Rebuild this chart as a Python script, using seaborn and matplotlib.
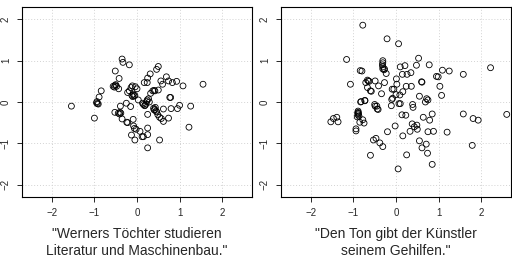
import matplotlib
matplotlib.use("Agg")
import matplotlib.pyplot as plt
import seaborn as sns
import pandas as pd

# left panel points
left_x = [-1.54, -1.00, -0.95, -0.93, -0.91, -0.94, -0.89, -0.84, -0.51, -0.56,
          -0.50, -0.52, -0.48, -0.53, -0.42, -0.43, -0.35, -0.33, -0.18, -0.52,
          -0.44, -0.40, -0.41, -0.38, -0.39, -0.35, -0.25, -0.24, -0.22, -0.22,
          -0.18, -0.14, -0.11, -0.15, -0.12, -0.10, -0.07, -0.05, -0.09, -0.04,
          0.00, 0.03, -0.09, -0.08, -0.06, -0.02, -0.13, -0.05, 0.07, 0.12,
          0.15, 0.25, 0.25, 0.25, 0.25, 0.13, 0.15, 0.18, 0.21, 0.23,
          0.24, 0.27, 0.19, 0.17, 0.24, 0.25, 0.31, 0.37, 0.40, 0.42,
          0.32, 0.29, 0.46, 0.50, 0.50, 0.39, 0.42, 0.40, 0.45, 0.46,
          0.43, 0.49, 0.53, 0.56, 0.60, 0.53, 0.62, 0.62, 0.57, 0.69,
          0.74, 0.74, 0.77, 0.79, 0.80, 0.83, 0.93, 0.95, 1.00, 1.08,
          1.22, 1.26, 1.55]
left_y = [-0.10, -0.39, -0.02, -0.04, -0.05, 0.01, 0.12, 0.27, 0.75, 0.38,
          0.42, 0.40, 0.38, 0.36, 0.57, 0.32, 1.04, 0.96, 0.90, -0.25,
          -0.27, -0.25, -0.29, -0.27, -0.10, -0.41, -0.03, -0.49, -0.50, 0.23,
          0.27, 0.35, 0.39, -0.11, 0.16, 0.13, 0.15, 0.16, 0.19, 0.37,
          0.32, 0.05, -0.42, -0.58, -0.64, -0.66, -0.80, -0.92, -0.71, -0.84,
          -0.84, -0.79, -0.63, -1.11, -0.30, -0.03, -0.06, -0.09, -0.05, 0.01,
          0.05, 0.08, -0.08, 0.47, 0.47, 0.58, 0.68, 0.27, 0.28, 0.27,
          0.21, 0.00, 0.79, 0.86, 0.29, -0.15, -0.18, -0.19, -0.22, -0.24,
          -0.13, -0.31, -0.37, 0.51, 0.43, -0.92, -0.17, -0.47, -0.40, 0.61,
          0.51, -0.39, 0.11, 0.11, -0.16, 0.47, 0.50, -0.16, -0.08, 0.39,
          -0.61, -0.10, 0.43]

# right panel points
right_x = [-1.53, -1.47, -1.39, -1.36, -1.16, -1.07, -0.94, -0.94, -0.89, -0.89,
           -0.88, -0.89, -0.87, -0.90, -0.91, -0.85, -0.78, -0.75, -0.84, -0.80,
           -0.78, -0.82, -0.73, -0.71, -0.65, -0.63, -0.67, -0.67, -0.60, -0.58,
           -0.60, -0.53, -0.50, -0.49, -0.47, -0.44, -0.42, -0.49, -0.41, -0.38,
           -0.34, -0.31, -0.31, -0.32, -0.31, -0.31, -0.28, -0.31, -0.27, -0.27,
           -0.23, -0.21, -0.20, -0.11, -0.10, -0.09, -0.05, -0.02, 0.01, 0.02,
           0.00, 0.06, 0.05, 0.09, 0.10, 0.10, 0.15, 0.16, 0.14, 0.16,
           0.21, 0.23, 0.24, 0.25, 0.26, 0.35, 0.36, 0.33, 0.39, 0.40,
           0.38, 0.43, 0.48, 0.53, 0.49, 0.50, 0.55, 0.55, 0.60, 0.61,
           0.61, 0.64, 0.69, 0.72, 0.75, 0.71, 0.74, 0.75, 0.79, 0.78,
           0.85, 0.85, 0.88, 0.95, 0.99, 1.03, 1.07, 1.09, 1.20, 1.25,
           1.58, 1.58, 1.81, 1.79, 1.93, 2.22, 2.60, -0.08, -0.83, -0.73,
           -0.45, 0.07]
right_y = [-0.48, -0.40, -0.37, -0.48, 1.03, 0.43, -0.65, -0.70, -0.22, -0.25,
           -0.28, -0.31, -0.34, -0.27, -0.36, -0.49, -0.43, -0.51, 0.76, 0.75,
           1.86, 0.01, 0.04, 0.47, 0.51, 0.50, 0.53, 0.35, 0.27, 0.26,
           -1.29, -0.92, -0.06, -0.10, -0.88, -0.17, -0.18, 0.51, 0.39, -0.99,
           0.20, 1.00, 0.95, 0.90, 0.85, 0.80, 0.78, -1.08, 0.80, 0.47,
           0.69, 1.53, -0.72, -0.09, 0.06, 0.31, 0.31, -0.58, 0.56, 0.43,
           0.18, 1.41, -1.62, 0.17, -0.04, 0.85, 0.67, 0.25, -0.31, -0.82,
           0.88, -0.32, 0.38, -1.28, 0.67, 0.71, 0.38, -0.71, -0.06, -0.13,
           -0.53, -0.60, 0.89, 1.06, -0.56, -0.66, 0.14, -0.94, 0.49, 0.48,
           -1.11, -0.37, 0.00, 0.08, 0.05, -1.02, -1.24, -0.72, -0.44, 0.90,
           -0.29, -1.51, -0.71, 0.62, 0.61, 0.38, 0.16, 0.77, -0.73, 0.75,
           0.67, -0.29, -0.40, -1.05, -0.44, 0.83, -0.30, 0.09, 0.00, 0.03,
           -0.10, -0.04]

titles = ['"Werners Töchter studieren\nLiteratur und Maschinenbau."',
          '"Den Ton gibt der Künstler\nseinem Gehilfen."']
ticks = [-2, -1, 0, 1, 2]

sns.set_style("white")
plt.rcParams['font.family'] = ['Liberation Sans', 'DejaVu Sans']

fig = plt.figure(figsize=(5.12, 2.6), dpi=100)
ax_l = fig.add_axes([22 / 512, 1 - 197 / 260, 230 / 512, 190 / 260])
ax_r = fig.add_axes([281 / 512, 1 - 197 / 260, 230 / 512, 190 / 260])

panels = [(ax_l, left_x, left_y, titles[0]), (ax_r, right_x, right_y, titles[1])]
for ax, xs, ys, title in panels:
    df = pd.DataFrame({"x": xs, "y": ys})
    sns.scatterplot(data=df, x="x", y="y", ax=ax, marker="o", s=18,
                    facecolors="none", edgecolor="black", linewidth=0.6, zorder=3)
    ax.set_xlim(-2.7, 2.7)
    ax.set_ylim(-2.3, 2.3)
    ax.set_xticks(ticks)
    ax.set_yticks(ticks)
    ax.set_xticklabels([str(t).replace("-", "\u2212") for t in ticks], fontsize=7)
    ax.set_yticklabels([str(t).replace("-", "\u2212") for t in ticks], fontsize=7,
                       rotation=90, va="center")
    ax.tick_params(axis="both", direction="out", length=3.5, width=0.7,
                   bottom=True, left=True, pad=4.5)
    ax.grid(True, linestyle=(0, (1, 2)), color="#d3d3d3", linewidth=0.7)
    for sp in ax.spines.values():
        sp.set_visible(True)
        sp.set_color("black")
        sp.set_linewidth(0.8)
    ax.set_xlabel(title, fontsize=10, linespacing=1.3, labelpad=6.5)
    ax.set_ylabel("")

fig.savefig("out.png", dpi=100, facecolor="white")
